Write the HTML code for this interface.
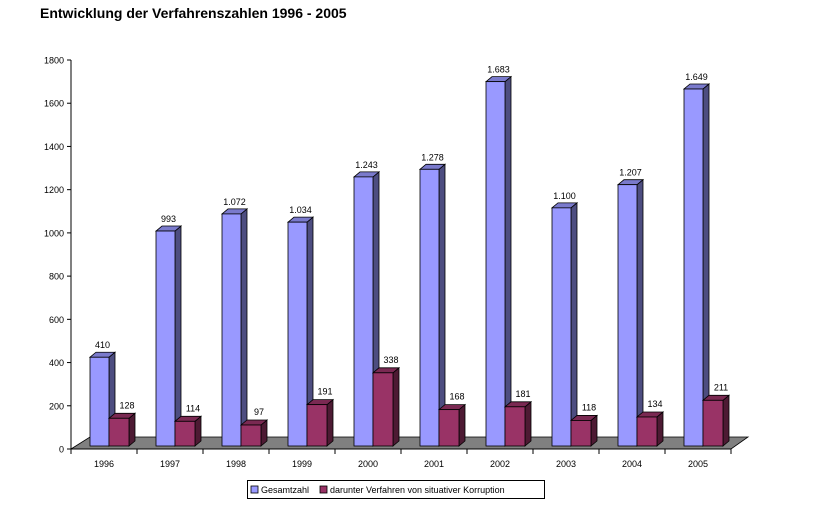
<!DOCTYPE html>
<html><head><meta charset="utf-8"><style>
body{margin:0;background:#fff;}
svg{display:block;font-family:"Liberation Sans",Arial,sans-serif;}
</style></head><body>
<svg id="s" width="819" height="505" viewBox="0 0 819 505" xmlns="http://www.w3.org/2000/svg">
<text x="40" y="18" font-size="14" font-weight="bold">Entwicklung der Verfahrenszahlen 1996 - 2005</text>
<polygon points="71,449 90,437 748,437 731,449" fill="#808080" stroke="#000" stroke-width="0.8"/>
<line x1="71" y1="60" x2="71" y2="449" stroke="#000"/>
<line x1="71" y1="449" x2="731" y2="449" stroke="#000"/>
<g id="g"></g>
<rect x="247.5" y="480.5" width="297" height="18" fill="#fff" stroke="#000"/>
<rect x="251" y="486" width="7" height="7" fill="#9999ff" stroke="#000" stroke-width="0.8"/>
<text x="261" y="493" font-size="9">Gesamtzahl</text>
<rect x="320" y="486" width="7" height="7" fill="#993366" stroke="#000" stroke-width="0.8"/>
<text x="330" y="493" font-size="9">darunter Verfahren von situativer Korruption</text>
</svg>
<script>
var ns="http://www.w3.org/2000/svg",g=document.getElementById("g");
function el(t,a,txt){var e=document.createElementNS(ns,t);for(var k in a)e.setAttribute(k,a[k]);if(txt)e.textContent=txt;g.appendChild(e);}
var yl=["0","200","400","600","800","1000","1200","1400","1600","1800"];
for(var i=0;i<10;i++){var y=449-i*389/9;el("line",{x1:67,y1:y,x2:71,y2:y,stroke:"#000"});el("text",{x:64,y:y+3.5,"font-size":9,"text-anchor":"end"},yl[i]);}
var yrs=["1996","1997","1998","1999","2000","2001","2002","2003","2004","2005"];
var b=[410,993,1072,1034,1243,1278,1683,1100,1207,1649],bl=["410","993","1.072","1.034","1.243","1.278","1.683","1.100","1.207","1.649"];
var r=[128,114,97,191,338,168,181,118,134,211],rl=["128","114","97","191","338","168","181","118","134","211"];
var k=0.2165,B=446,dx=6,dy=5;
function bar(x,w,v,lab,f,top,side,ox,oy){var h=v*k,t=B-h;
el("polygon",{points:[x+w,B,x+w+dx,B-dy,x+w+dx,t-dy,x+w,t].join(","),fill:side,stroke:"#000","stroke-width":0.8});
el("polygon",{points:[x,t,x+dx,t-dy,x+w+dx,t-dy,x+w,t].join(","),fill:top,stroke:"#000","stroke-width":0.8});
el("rect",{x:x,y:t,width:w,height:h,fill:f,stroke:"#000","stroke-width":0.8});
el("text",{x:x+w/2+ox,y:t-dy-oy,"font-size":9,"text-anchor":"middle"},lab);}
for(var i=0;i<10;i++){var x0=71+66*i;
el("line",{x1:x0+66,y1:449,x2:x0+66,y2:454,stroke:"#000"});
el("text",{x:x0+33,y:467,"font-size":9,"text-anchor":"middle"},yrs[i]);
bar(x0+19,19,b[i],bl[i],"#9999ff","#7a7acc","#4d4d80",3,4);
bar(x0+38,20,r[i],rl[i],"#993366","#7a2952","#4d1a33",8,5);}
el("line",{x1:71,y1:449,x2:71,y2:454,stroke:"#000"});
</script>
</body></html>
